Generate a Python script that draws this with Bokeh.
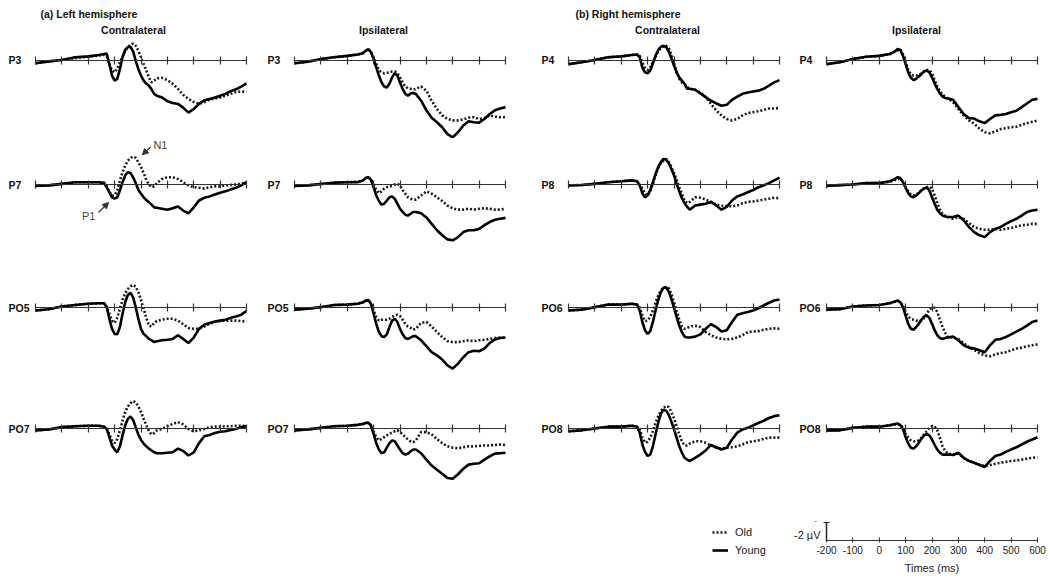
from bokeh.plotting import figure
from bokeh.models import (Range1d, LinearAxis, FixedTicker, Label, Arrow, NormalHead,
                          Legend, LegendItem)
from bokeh.layouts import column, row
from bokeh.embed import file_html
from bokeh.resources import INLINE

# ---------------- data ----------------
times = [-200, -150, -100, -50, 0, 40, 60, 70, 80, 90,
         100, 110, 120, 130, 140, 150, 160, 170, 180, 190, 200, 210, 220, 230, 240, 250, 260,
         280, 300, 320, 340, 360, 380, 400, 420, 440, 460, 480, 500, 520, 540, 560, 580, 600]
tick_ms = [-200, -100, 0, 100, 200, 300, 400, 500, 600]
tick_labels = ["-200", "-100", "0", "100", "200", "300", "400", "500", "600"]
scale_bar_uv = -2

# amplitudes in microvolts (negative plotted upwards)
p3_contra_young = [0.36, 0.15, 0.0, -0.3, -0.4, -0.55, -0.65, -0.7, 0.44, 1.7,
                   2.25, 2.07, 1.0, -0.3, -1.1, -1.4, -1.45, -0.95, 0.07, 1.0, 1.7, 2.25, 2.6, 2.8, 3.2, 3.7, 3.9,
                   4.1, 4.5, 4.7, 4.8, 5.2, 5.75, 5.35, 4.8, 4.4, 4.25, 4.1, 3.9, 3.7, 3.4, 3.2, 2.9, 2.55]
p3_contra_old = [0.36, 0.15, 0.0, -0.2, -0.35, -0.5, -0.58, -0.4, 0.45, 1.15,
                 1.35, 0.9, 0.25, -0.35, -1.0, -1.4, -1.65, -1.8, -1.55, -1.0, -0.3, 0.45, 1.15, 1.9, 2.45, 2.25, 2.0,
                 1.95, 2.2, 2.6, 3.15, 3.8, 4.25, 4.6, 4.8, 4.6, 4.35, 4.2, 4.1, 3.9, 3.7, 3.5, 3.45, 3.5]
p7_contra_young = [0.15, 0.1, -0.07, -0.25, -0.25, -0.25, -0.15, 0.3, 0.85, 1.4,
                   1.55, 1.4, 0.65, -0.25, -1.0, -1.35, -1.25, -0.8, -0.15, 0.6, 1.0, 1.4, 1.7, 1.95, 2.2, 2.5, 2.55,
                   2.65, 2.75, 2.6, 2.4, 2.85, 3.15, 2.5, 1.75, 1.45, 1.3, 1.1, 0.9, 0.75, 0.55, 0.35, 0.1, -0.25]
p7_contra_old = [0.15, 0.1, -0.07, -0.25, -0.25, -0.25, -0.2, 0.2, 0.8, 1.2,
                 1.2, 0.65, -0.45, -1.35, -2.05, -2.6, -2.9, -3.05, -2.9, -2.45, -1.9, -1.25, -0.5, 0.0, 0.3, 0.2, -0.15,
                 -0.6, -0.8, -0.8, -0.6, -0.25, 0.1, 0.3, 0.35, 0.45, 0.3, 0.2, 0.2, 0.1, 0.05, 0.0, -0.07, -0.25]
po5_contra_young = [0.3, 0.15, -0.15, -0.3, -0.45, -0.5, -0.5, -0.07, 1.2, 2.3,
                    2.85, 2.9, 2.1, 0.65, -0.6, -1.4, -1.65, -1.15, -0.07, 1.2, 2.3, 2.85, 3.1, 3.4, 3.55, 3.75, 3.65,
                    3.55, 3.5, 3.4, 3.0, 3.4, 3.85, 3.25, 2.3, 1.85, 1.65, 1.5, 1.4, 1.3, 1.1, 0.95, 0.75, 0.35]
po5_contra_old = [0.3, 0.15, -0.15, -0.3, -0.45, -0.5, -0.5, -0.1, 0.65, 1.4,
                  1.65, 1.1, 0.1, -0.85, -1.6, -2.05, -2.35, -2.5, -2.3, -1.7, -0.85, 0.1, 1.1, 1.95, 2.05, 1.65, 1.45,
                  1.3, 1.2, 1.2, 1.4, 1.8, 2.2, 2.3, 2.3, 2.05, 1.75, 1.55, 1.45, 1.4, 1.4, 1.4, 1.45, 1.5]
po7_contra_young = [0.2, 0.1, -0.15, -0.25, -0.3, -0.3, -0.2, 0.05, 0.95, 1.85,
                    2.3, 2.6, 1.95, 0.75, -0.35, -1.05, -1.3, -0.95, -0.15, 0.65, 1.25, 1.65, 1.95, 2.2, 2.4, 2.6, 2.7,
                    2.7, 2.65, 2.6, 2.2, 2.45, 2.95, 2.6, 1.6, 0.85, 0.7, 0.5, 0.35, 0.3, 0.15, 0.05, -0.15, -0.25]
po7_contra_old = [0.2, 0.1, -0.15, -0.25, -0.3, -0.3, -0.2, 0.05, 0.6, 1.3,
                  1.6, 1.15, 0.2, -0.85, -1.8, -2.4, -2.75, -3.0, -2.85, -2.4, -1.8, -1.05, -0.35, 0.3, 0.65, 0.5, 0.2,
                  0.05, -0.25, -0.5, -0.7, -0.45, 0.05, 0.3, 0.2, 0.05, -0.15, -0.2, -0.2, -0.25, -0.25, -0.3, -0.3, -0.25]

p3_ipsi_young = [0.36, 0.2, -0.1, -0.3, -0.45, -0.6, -0.75, -1.0, -1.2, -0.85,
                 -0.1, 0.8, 1.7, 2.45, 2.9, 3.0, 2.6, 1.9, 1.45, 1.7, 2.45, 3.15, 3.7, 3.9, 3.65, 3.6, 3.7,
                 4.45, 5.5, 6.3, 6.8, 7.35, 8.1, 8.45, 7.9, 7.15, 6.7, 6.8, 6.85, 6.45, 5.9, 5.5, 5.3, 5.15]
p3_ipsi_old = [0.36, 0.2, -0.1, -0.3, -0.45, -0.6, -0.8, -1.0, -1.15, -0.9,
               -0.3, 0.45, 1.1, 1.35, 1.45, 1.4, 1.35, 1.25, 1.25, 1.45, 1.9, 2.45, 2.9, 3.1, 3.15, 3.25, 3.15,
               2.9, 3.35, 4.45, 5.35, 6.05, 6.45, 6.6, 6.6, 6.5, 6.3, 6.25, 6.45, 6.35, 6.05, 6.2, 6.25, 6.25]
p7_ipsi_young = [0.15, 0.1, -0.05, -0.2, -0.25, -0.25, -0.45, -0.7, -0.8, -0.5,
                 0.3, 1.2, 1.8, 2.2, 2.1, 1.75, 1.4, 1.3, 1.55, 2.1, 2.65, 3.0, 3.3, 3.4, 3.2, 3.0, 3.0,
                 3.15, 3.6, 4.3, 5.0, 5.55, 6.0, 6.1, 5.75, 5.2, 5.0, 5.0, 4.85, 4.45, 4.1, 3.85, 3.75, 3.65]
p7_ipsi_old = [0.15, 0.1, -0.05, -0.2, -0.25, -0.3, -0.45, -0.7, -0.8, -0.55,
               -0.1, 0.6, 0.95, 0.75, 0.45, 0.3, 0.2, 0.15, 0.0, -0.07, 0.1, 0.6, 1.0, 1.4, 1.55, 1.65, 1.65,
               1.2, 0.75, 1.0, 1.4, 1.8, 2.3, 2.6, 2.75, 2.75, 2.65, 2.75, 2.65, 2.6, 2.65, 2.75, 2.75, 2.65]
po5_ipsi_young = [0.2, 0.1, -0.07, -0.3, -0.35, -0.45, -0.6, -0.8, -0.85, -0.45,
                  0.65, 1.75, 2.65, 3.1, 3.2, 2.9, 2.1, 1.4, 1.2, 1.55, 2.3, 2.9, 3.3, 3.4, 3.25, 3.1, 3.1,
                  3.55, 4.2, 4.85, 5.2, 5.65, 6.3, 6.65, 6.1, 5.4, 4.85, 4.7, 4.75, 4.45, 3.85, 3.45, 3.3, 3.25]
po5_ipsi_old = [0.2, 0.1, -0.07, -0.3, -0.35, -0.45, -0.6, -0.75, -0.8, -0.5,
                0.3, 1.0, 1.4, 1.3, 1.3, 1.3, 1.2, 1.0, 0.85, 0.75, 0.9, 1.3, 1.75, 2.05, 2.2, 2.4, 2.3,
                1.65, 1.55, 2.05, 2.65, 3.2, 3.65, 3.75, 3.75, 3.65, 3.55, 3.65, 3.55, 3.5, 3.4, 3.3, 3.25, 3.3]
po7_ipsi_young = [0.2, 0.1, -0.07, -0.25, -0.3, -0.4, -0.5, -0.6, -0.65, -0.3,
                  0.6, 1.6, 2.3, 2.7, 2.6, 2.1, 1.6, 1.3, 1.4, 1.85, 2.3, 2.7, 2.85, 2.75, 2.5, 2.3, 2.3,
                  2.7, 3.4, 4.05, 4.5, 4.95, 5.4, 5.5, 5.0, 4.4, 3.95, 3.85, 3.8, 3.4, 3.05, 2.75, 2.7, 2.65]
po7_ipsi_old = [0.2, 0.1, -0.07, -0.25, -0.3, -0.4, -0.5, -0.6, -0.6, -0.35,
                0.3, 0.95, 1.3, 1.15, 0.95, 0.75, 0.6, 0.4, 0.3, 0.2, 0.4, 0.65, 0.95, 1.2, 1.4, 1.5, 1.3,
                0.4, 0.4, 0.65, 1.15, 1.6, 1.95, 2.1, 2.15, 2.05, 1.95, 1.95, 1.9, 1.85, 1.85, 1.8, 1.75, 1.8]

p4_contra_young = [0.45, 0.25, 0.0, -0.3, -0.4, -0.55, -0.6, -0.3, 0.8, 1.35,
                   1.45, 1.15, 0.35, -0.45, -1.1, -1.45, -1.55, -1.4, -0.95, -0.2, 0.6, 1.35, 1.9, 2.25, 2.6, 3.15, 3.15,
                   3.25, 3.65, 4.05, 4.45, 4.75, 5.0, 4.9, 4.35, 4.0, 3.7, 3.55, 3.45, 3.35, 3.15, 2.8, 2.45, 2.2]
p4_contra_old = [0.45, 0.25, 0.0, -0.3, -0.4, -0.55, -0.6, -0.45, 0.25, 0.85,
                 1.1, 0.8, 0.25, -0.35, -0.95, -1.3, -1.5, -1.55, -1.3, -0.6, 0.35, 1.35, 2.05, 2.45, 2.6, 2.95, 3.15,
                 3.25, 3.55, 4.05, 4.8, 5.5, 6.05, 6.45, 6.6, 6.45, 6.05, 5.8, 5.7, 5.6, 5.45, 5.3, 5.3, 5.25]
p8_contra_young = [0.1, 0.05, -0.07, -0.25, -0.35, -0.45, -0.35, 0.1, 0.95, 1.4,
                   1.2, 0.6, -0.25, -1.15, -1.9, -2.45, -2.8, -2.7, -2.35, -1.7, -1.0, -0.07, 0.75, 1.5, 2.05, 2.45, 2.75,
                   2.3, 2.2, 2.1, 1.9, 2.3, 2.75, 2.45, 1.75, 1.3, 1.1, 0.85, 0.6, 0.3, 0.1, -0.15, -0.45, -0.75]
p8_contra_old = [0.1, 0.05, -0.07, -0.25, -0.35, -0.45, -0.35, 0.05, 0.45, 1.0,
                 1.2, 0.75, -0.07, -1.0, -1.8, -2.35, -2.6, -2.8, -2.45, -1.9, -1.25, -0.5, 0.3, 1.0, 1.75, 2.05, 1.9,
                 1.4, 1.45, 1.65, 1.9, 2.2, 2.3, 2.35, 2.4, 2.3, 2.05, 1.9, 1.85, 1.75, 1.65, 1.55, 1.45, 1.5]
po6_contra_young = [0.3, 0.2, -0.07, -0.35, -0.35, -0.45, -0.35, 0.3, 1.55, 2.45,
                    2.85, 2.55, 1.55, 0.3, -0.85, -1.7, -2.2, -2.25, -1.8, -1.0, 0.0, 1.0, 1.95, 2.65, 3.15, 3.25, 3.25,
                    3.15, 2.9, 2.3, 1.8, 2.1, 2.6, 2.45, 1.55, 0.75, 0.6, 0.45, 0.3, 0.05, -0.25, -0.55, -0.8, -0.9]
po6_contra_old = [0.3, 0.2, -0.07, -0.35, -0.35, -0.45, -0.35, -0.05, 0.85, 1.45,
                  1.4, 0.95, 0.3, -0.6, -1.35, -1.9, -2.2, -2.25, -2.15, -1.5, -0.6, 0.35, 1.3, 2.05, 2.3, 2.2, 2.05,
                  1.95, 2.1, 2.65, 3.0, 3.25, 3.4, 3.45, 3.4, 3.25, 3.0, 2.65, 2.6, 2.55, 2.4, 2.3, 2.25, 2.3]
po8_contra_young = [0.3, 0.2, 0.0, -0.2, -0.2, -0.3, -0.2, 0.45, 1.75, 2.55,
                    3.0, 2.85, 1.95, 0.65, -0.6, -1.6, -2.05, -1.95, -1.5, -0.75, 0.1, 1.0, 1.95, 2.65, 3.2, 3.4, 3.55,
                    3.2, 2.85, 2.4, 1.8, 2.05, 2.3, 2.1, 1.2, 0.45, 0.1, -0.07, -0.35, -0.6, -0.85, -1.15, -1.35, -1.45]
po8_contra_old = [0.3, 0.2, 0.0, -0.2, -0.2, -0.3, -0.2, 0.1, 1.0, 1.55,
                  1.45, 1.0, 0.3, -0.6, -1.35, -1.9, -2.25, -2.45, -2.35, -1.8, -1.1, -0.25, 0.65, 1.4, 1.85, 1.85, 1.65,
                  1.4, 1.4, 1.55, 1.85, 2.1, 2.2, 2.1, 2.05, 1.95, 1.75, 1.5, 1.4, 1.3, 1.15, 1.0, 1.0, 1.0]

p4_ipsi_young = [0.45, 0.25, -0.1, -0.35, -0.45, -0.65, -0.95, -1.2, -1.1, -0.45,
                 0.45, 1.35, 1.95, 2.2, 2.05, 1.8, 1.55, 1.25, 1.15, 1.35, 1.9, 2.55, 3.15, 3.65, 4.0, 4.15, 4.2,
                 4.35, 5.15, 5.9, 6.35, 6.4, 6.7, 6.9, 6.45, 6.05, 6.0, 5.9, 5.7, 5.55, 5.15, 4.75, 4.35, 4.25]
p4_ipsi_old = [0.45, 0.25, -0.1, -0.35, -0.45, -0.65, -0.95, -1.05, -1.15, -0.6,
               0.25, 1.1, 1.55, 1.7, 1.7, 1.65, 1.45, 1.25, 1.1, 1.1, 1.45, 2.2, 2.9, 3.4, 3.8, 4.0, 4.2,
               4.6, 5.35, 6.05, 6.6, 6.95, 7.5, 7.9, 8.0, 7.8, 7.55, 7.45, 7.35, 7.3, 7.1, 6.9, 6.75, 6.6]
p8_ipsi_young = [0.15, 0.07, 0.0, -0.15, -0.15, -0.35, -0.6, -0.8, -0.7, -0.25,
                 0.35, 0.95, 1.3, 1.4, 1.2, 0.95, 0.65, 0.4, 0.35, 0.65, 1.4, 2.1, 2.75, 3.15, 3.4, 3.5, 3.55,
                 3.55, 3.4, 3.9, 4.65, 5.2, 5.55, 5.75, 5.2, 4.85, 4.65, 4.3, 4.0, 3.75, 3.4, 3.0, 2.85, 2.75]
p8_ipsi_old = [0.15, 0.07, 0.0, -0.15, -0.15, -0.3, -0.5, -0.6, -0.65, -0.3,
               0.3, 0.75, 1.1, 1.2, 1.1, 0.9, 0.65, 0.45, 0.3, 0.2, 0.45, 1.2, 2.05, 2.75, 3.2, 3.4, 3.55,
               3.75, 3.55, 3.75, 4.2, 4.65, 4.85, 4.95, 4.95, 4.85, 4.95, 4.85, 4.75, 4.6, 4.45, 4.4, 4.3, 4.3]
po6_ipsi_young = [0.2, 0.15, -0.15, -0.25, -0.3, -0.5, -0.7, -0.8, -0.6, -0.07,
                  0.85, 1.75, 2.3, 2.4, 2.1, 1.75, 1.3, 0.95, 0.85, 1.1, 1.75, 2.45, 3.0, 3.3, 3.4, 3.3, 3.25,
                  3.15, 3.55, 4.1, 4.35, 4.45, 4.65, 4.85, 4.1, 3.5, 3.4, 3.2, 2.9, 2.6, 2.3, 1.95, 1.55, 1.4]
po6_ipsi_old = [0.2, 0.15, -0.15, -0.25, -0.3, -0.5, -0.65, -0.75, -0.6, -0.25,
                0.45, 0.95, 1.2, 1.3, 1.4, 1.45, 1.4, 1.1, 0.65, 0.2, 0.0, 0.0, 0.45, 1.3, 2.1, 2.75, 3.2,
                3.25, 3.4, 3.85, 4.3, 4.6, 4.95, 5.2, 5.3, 5.1, 4.95, 4.85, 4.65, 4.45, 4.35, 4.2, 4.1, 4.0]
po8_ipsi_young = [0.2, 0.2, -0.07, -0.2, -0.2, -0.35, -0.5, -0.55, -0.35, 0.1,
                  0.95, 1.65, 2.1, 2.2, 1.95, 1.55, 1.1, 0.75, 0.6, 0.75, 1.2, 1.8, 2.3, 2.65, 2.85, 2.85, 2.85,
                  2.9, 2.65, 3.2, 3.55, 3.75, 4.0, 4.2, 3.55, 3.0, 2.85, 2.55, 2.3, 2.05, 1.75, 1.45, 1.2, 0.95]
po8_ipsi_old = [0.2, 0.2, -0.07, -0.2, -0.2, -0.35, -0.45, -0.5, -0.4, -0.07,
                0.6, 1.0, 1.3, 1.4, 1.4, 1.3, 1.0, 0.65, 0.3, -0.07, -0.25, -0.25, 0.2, 1.0, 1.95, 2.45, 2.75,
                2.85, 2.75, 3.2, 3.55, 3.75, 3.95, 4.1, 4.0, 3.85, 3.75, 3.65, 3.55, 3.5, 3.4, 3.3, 3.2, 3.15]

electrodes = [["P3", "P3", "P4", "P4"],
              ["P7", "P7", "P8", "P8"],
              ["PO5", "PO5", "PO6", "PO6"],
              ["PO7", "PO7", "PO8", "PO8"]]
series = [[(p3_contra_old, p3_contra_young), (p3_ipsi_old, p3_ipsi_young),
           (p4_contra_old, p4_contra_young), (p4_ipsi_old, p4_ipsi_young)],
          [(p7_contra_old, p7_contra_young), (p7_ipsi_old, p7_ipsi_young),
           (p8_contra_old, p8_contra_young), (p8_ipsi_old, p8_ipsi_young)],
          [(po5_contra_old, po5_contra_young), (po5_ipsi_old, po5_ipsi_young),
           (po6_contra_old, po6_contra_young), (po6_ipsi_old, po6_ipsi_young)],
          [(po7_contra_old, po7_contra_young), (po7_ipsi_old, po7_ipsi_young),
           (po8_contra_old, po8_contra_young), (po8_ipsi_old, po8_ipsi_young)]]
col_titles = ["Contralateral", "Ipsilateral", "Contralateral", "Ipsilateral"]
group_titles = {0: "(a) Left hemisphere", 2: "(b) Right hemisphere"}

# ---------------- layout / style ----------------
FONT = "Liberation Sans"
PX_PER_UV = 9.15
PX_PER_MS = 211 / 800
col_specs = [(260, 35), (270, 34), (260, 38), (260, 36)]      # figure width, px left of -200 ms
row_specs = [(138, 59.5), (124, 46), (122, 45.3), (122, 44)]  # figure height, axis px from top
title_dx = [98, 89, 99, 90]
group_dx = {0: 5, 2: 7}
OLD_STYLE = dict(line_color="#1a1a1a", line_width=2.6, line_dash="2 2", line_cap="butt")
YOUNG_STYLE = dict(line_color="#000000", line_width=2.6)
TXT = dict(text_font=FONT, text_color="#111111")


def base_fig(w, h, left_px, ax_px):
    right_px = w - left_px - 211
    p = figure(width=w, height=h, output_backend="svg", toolbar_location=None,
               x_axis_location=None, y_axis_location=None,
               x_range=Range1d(-200 - left_px / PX_PER_MS, 600 + right_px / PX_PER_MS),
               y_range=Range1d(start=(h - ax_px) / PX_PER_UV, end=-ax_px / PX_PER_UV),
               min_border=0, min_border_left=0, min_border_right=0,
               min_border_top=0, min_border_bottom=0)
    p.outline_line_color = None
    p.background_fill_color = "white"
    p.border_fill_color = "white"
    for g in p.grid:
        g.visible = False
    return p


def panel(r, c):
    w, lp = col_specs[c]
    h, ax = row_specs[r]
    p = base_fig(w, h, lp, ax)
    axis = LinearAxis(fixed_location=0, bounds=(-200, 600), ticker=FixedTicker(ticks=tick_ms),
                      major_label_text_color=None, major_label_text_font_size="1px",
                      major_tick_in=4, major_tick_out=4, minor_tick_line_color=None,
                      axis_line_color="#333333", major_tick_line_color="#333333",
                      axis_line_width=1.2, major_tick_line_width=1.2)
    p.add_layout(axis, "below")
    old, young = series[r][c]
    p.line(times, old, **OLD_STYLE)
    p.line(times, young, **YOUNG_STYLE)
    p.add_layout(Label(x=-200, y=0, x_offset=-27, text=electrodes[r][c], text_align="left",
                       text_baseline="middle", text_font_style="bold", text_font_size="10.5px", **TXT))
    if r == 0:
        p.add_layout(Label(x=-200, y=0, x_offset=title_dx[c], y_offset=30, text=col_titles[c],
                           text_align="center", text_baseline="middle",
                           text_font_style="bold", text_font_size="10.5px", **TXT))
        if c in group_titles:
            p.add_layout(Label(x=-200, y=0, x_offset=group_dx[c], y_offset=46, text=group_titles[c],
                               text_align="left", text_baseline="middle",
                               text_font_style="bold", text_font_size="10.5px", **TXT))
    if r == 1 and c == 0:
        p.add_layout(Arrow(end=NormalHead(size=6, fill_color="#333333", line_color="#333333"),
                           x_start=236, y_start=-4.1, x_end=205, y_end=-3.25,
                           line_color="#333333", line_width=1.2))
        p.add_layout(Label(x=247, y=-4.3, text="N1", text_align="left", text_baseline="middle",
                           text_font=FONT, text_font_size="11px", text_color="#444444"))
        p.add_layout(Arrow(end=NormalHead(size=6, fill_color="#333333", line_color="#333333"),
                           x_start=39, y_start=3.06, x_end=77, y_end=1.97,
                           line_color="#333333", line_width=1.2))
        p.add_layout(Label(x=27, y=3.4, text="P1", text_align="right", text_baseline="middle",
                           text_font=FONT, text_font_size="11px", text_color="#444444"))
    return p


rows = [row(*[panel(r, c) for c in range(4)]) for r in range(4)]

# ---------------- bottom: legend and scale ----------------
bh, bax = 78, 34
b = base_fig(1050, bh, 826, bax)
xa = LinearAxis(fixed_location=0, bounds=(-200, 600), ticker=FixedTicker(ticks=tick_ms),
                major_label_overrides={t: s for t, s in zip(tick_ms, tick_labels)},
                major_tick_in=3, major_tick_out=2, minor_tick_line_color=None,
                major_label_text_font=FONT, major_label_text_font_size="10px",
                major_label_text_color="#222222", major_label_standoff=3,
                axis_label="Times (ms)", axis_label_text_font=FONT, axis_label_text_font_size="11px",
                axis_label_text_font_style="normal", axis_label_text_color="#222222",
                axis_label_standoff=5, axis_line_color="#333333", major_tick_line_color="#333333")
b.add_layout(xa, "below")
ya = LinearAxis(fixed_location=-200, bounds=(scale_bar_uv, 0), ticker=FixedTicker(ticks=[scale_bar_uv]),
                major_tick_in=3, major_tick_out=3, minor_tick_line_color=None,
                major_label_text_color=None, major_label_text_font_size="1px",
                axis_line_color="#222222", major_tick_line_color="#222222", axis_line_width=1.5)
b.add_layout(ya, "left")
b.add_layout(Label(x=-200, y=0, x_offset=-6, y_offset=6, text=f"{scale_bar_uv} µV", text_align="right",
                   text_baseline="middle", text_font=FONT, text_font_size="11px", text_color="#222222"))
b.add_layout(Label(x=-200, y=scale_bar_uv, x_offset=-11, y_offset=2, text="-", text_align="center",
                   text_baseline="middle", text_font=FONT, text_font_size="8px", text_color="#444444"))
nan = float("nan")
r_old = b.line([nan], [nan], **OLD_STYLE)
r_young = b.line([nan], [nan], **YOUNG_STYLE)
legend = Legend(items=[LegendItem(label="Old", renderers=[r_old]),
                       LegendItem(label="Young", renderers=[r_young])],
                location=(712, 25), border_line_color=None, background_fill_alpha=0,
                padding=0, spacing=0, margin=0, glyph_width=16, glyph_height=18, label_height=18,
                label_standoff=7, label_text_font=FONT, label_text_font_size="11px",
                label_text_color="#222222")
b.add_layout(legend)

layout = column(*rows, b)
open("out.html", "w").write(file_html(layout, INLINE))
